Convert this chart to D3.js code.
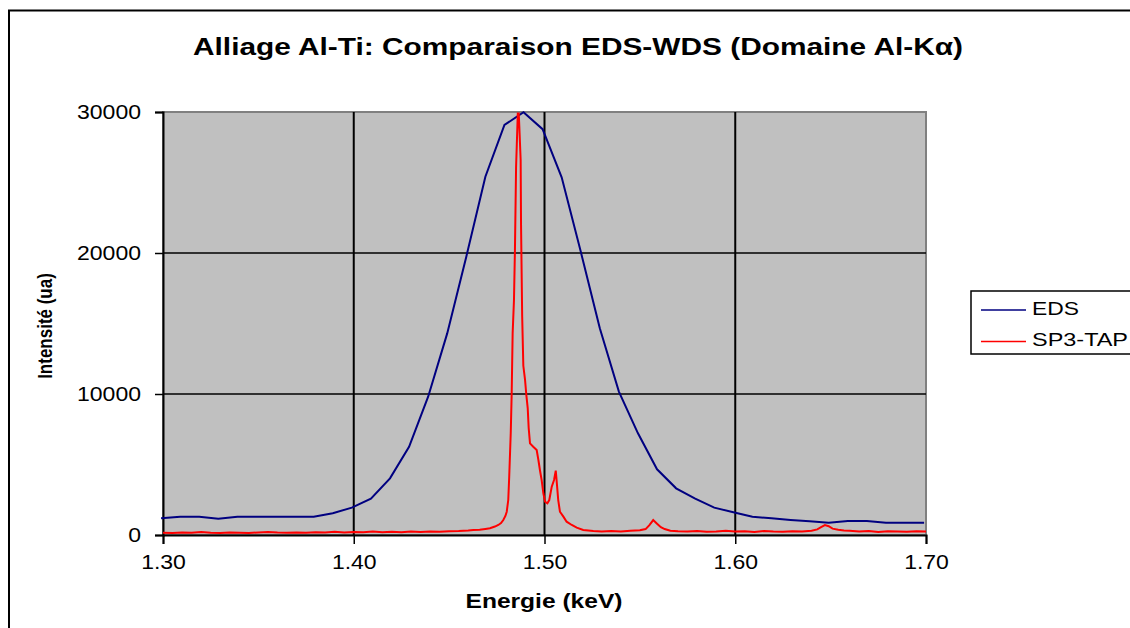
<!DOCTYPE html>
<html>
<head>
<meta charset="utf-8">
<script src="https://cdnjs.cloudflare.com/ajax/libs/d3/7.8.5/d3.min.js"></script>
<style>
    body { margin: 0; background: #fff; }
    svg text { font-family: "Liberation Sans", Arial, sans-serif; }
</style>
</head>
<body>
<svg id="chart"></svg>
<script>
/* global d3 */

// EDS spectrum (10 eV channels)
var edsEnergy = [1.299, 1.309, 1.319, 1.329, 1.339, 1.349, 1.359, 1.369, 1.379, 1.389,
    1.399, 1.409, 1.419, 1.429, 1.439, 1.449, 1.459, 1.469, 1.479, 1.489,
    1.499, 1.509, 1.519, 1.529, 1.539, 1.549, 1.559, 1.569, 1.579, 1.589,
    1.599, 1.609, 1.619, 1.629, 1.639, 1.649, 1.659, 1.669, 1.679, 1.689, 1.699];
var edsCounts = [1180, 1300, 1300, 1160, 1300, 1300, 1300, 1300, 1300, 1540,
    1940, 2580, 4020, 6260, 9810, 14300, 19740, 25410, 29080, 29980,
    28780, 25370, 20100, 14660, 10170, 7210, 4660, 3310, 2580, 1940,
    1610, 1300, 1180, 1064, 970, 870, 993, 993, 870, 870, 870];

// WDS spectrum, spectrometer SP3 with TAP crystal
var wdsEnergy = [1.300, 1.305, 1.310, 1.315, 1.320, 1.325, 1.330, 1.335, 1.340, 1.345,
    1.350, 1.355, 1.360, 1.365, 1.370, 1.375, 1.380, 1.385, 1.390, 1.395,
    1.400, 1.405, 1.410, 1.415, 1.420, 1.425, 1.430, 1.435, 1.440, 1.445,
    1.450, 1.455, 1.460, 1.4627, 1.466, 1.469, 1.4714, 1.474, 1.4758, 1.4772,
    1.4784, 1.4795, 1.4802, 1.4810, 1.4815, 1.4823, 1.4828, 1.4833, 1.4840, 1.4845,
    1.4851, 1.4860, 1.4865, 1.4868, 1.4875, 1.4877, 1.4883, 1.4889, 1.4898, 1.4905,
    1.4912, 1.4917, 1.4924, 1.4941, 1.4959, 1.4968, 1.4976, 1.4985, 1.4994, 1.5003,
    1.5015, 1.5025, 1.5038, 1.5050, 1.5059, 1.5064, 1.5072, 1.5081, 1.5099, 1.5116,
    1.5143, 1.5169, 1.5203, 1.5256, 1.530, 1.535, 1.540, 1.545, 1.550, 1.553,
    1.555, 1.557, 1.559, 1.561, 1.563, 1.566, 1.570, 1.575, 1.580, 1.585,
    1.590, 1.595, 1.600, 1.605, 1.610, 1.615, 1.620, 1.625, 1.630, 1.635,
    1.640, 1.643, 1.645, 1.647, 1.649, 1.651, 1.654, 1.657, 1.660, 1.665,
    1.670, 1.675, 1.680, 1.685, 1.690, 1.695, 1.700];
var wdsCounts = [160, 150, 170, 160, 210, 160, 150, 170, 160, 150,
    180, 220, 170, 160, 180, 160, 200, 170, 230, 180,
    220, 190, 240, 200, 230, 190, 250, 220, 240, 230,
    260, 280, 320, 355, 380, 430, 475, 600, 710, 850,
    1060, 1350, 1650, 2480, 4130, 7210, 10050, 14300, 16670, 20200,
    26100, 29900, 29900, 28960, 26600, 22000, 15500, 12000, 11000, 9900,
    9000, 7600, 6500, 6260, 6030, 5320, 4610, 3900, 2960, 2360,
    2250, 2480, 3430, 3900, 4560, 3780, 2480, 1650, 1300, 945,
    710, 520, 355, 280, 250, 290, 240, 300, 330, 420,
    700, 1060, 800, 550, 420, 300, 260, 240, 280, 230,
    250, 300, 240, 260, 220, 280, 240, 230, 270, 240,
    300, 400, 560, 700, 620, 450, 380, 320, 300, 250,
    280, 220, 260, 240, 230, 260, 240];

var xTicks = [1.30, 1.40, 1.50, 1.60, 1.70];
var yTicks = [0, 10000, 20000, 30000];

var AlTi = AlTi || {};
AlTi.SpectrumChart = function (svgEl) {

    var that = {},
        width = 1130,
        height = 628,
        plot = { left: 163, right: 926, top: 112, bottom: 535 };

    // the original picture is a little wider than Arial, so widen horizontal texts
    function widen(sel, k) {
        sel.each(function () {
            var w = this.getComputedTextLength();
            d3.select(this).attr("textLength", w * k).attr("lengthAdjust", "spacingAndGlyphs");
        });
    }

    function draw() {
        var svg = d3.select(svgEl).attr("width", width).attr("height", height),
            x = d3.scaleLinear().domain([1.30, 1.70]).range([plot.left, plot.right]),
            y = d3.scaleLinear().domain([0, 30000]).range([plot.bottom, plot.top]),
            eds = edsEnergy.map(function (e, i) { return [e, edsCounts[i]]; }),
            wds = wdsEnergy.map(function (e, i) { return [e, wdsCounts[i]]; }),
            line = d3.line().x(function (d) { return x(d[0]); }).y(function (d) { return y(d[1]); });

        // outer chart frame
        svg.append("rect").attr("x", 9).attr("y", 10.5).attr("width", 1140).attr("height", 640)
            .attr("fill", "#fff").attr("stroke", "#000").attr("stroke-width", 2);

        svg.append("text").attr("x", 578).attr("y", 55).attr("text-anchor", "middle")
            .attr("font-size", 24).attr("font-weight", "bold")
            .attr("textLength", 770).attr("lengthAdjust", "spacingAndGlyphs")
            .text("Alliage Al-Ti: Comparaison EDS-WDS (Domaine Al-K\u03b1)");

        // plot area
        svg.append("rect").attr("x", plot.left).attr("y", plot.top)
            .attr("width", plot.right - plot.left).attr("height", plot.bottom - plot.top)
            .attr("fill", "#c0c0c0").attr("stroke", "#808080").attr("stroke-width", 2);

        svg.append("g").selectAll("line").data(xTicks.slice(1, 4)).enter().append("line")
            .attr("x1", x).attr("x2", x).attr("y1", plot.top).attr("y2", plot.bottom)
            .attr("stroke", "#000").attr("stroke-width", 2);
        svg.append("g").selectAll("line").data(yTicks.slice(1, 3)).enter().append("line")
            .attr("y1", y).attr("y2", y).attr("x1", plot.left).attr("x2", plot.right)
            .attr("stroke", "#000").attr("stroke-width", 1.6);

        var xAxis = svg.append("g").attr("transform", "translate(0," + plot.bottom + ")")
            .call(d3.axisBottom(x).tickValues(xTicks).tickFormat(d3.format(".2f")).tickSize(9).tickPadding(11));
        var yAxis = svg.append("g").attr("transform", "translate(" + plot.left + ",0)")
            .call(d3.axisLeft(y).tickValues(yTicks).tickFormat(d3.format("d")).tickSize(8).tickPadding(14));
        [xAxis, yAxis].forEach(function (a) {
            a.select(".domain").attr("stroke", "#000").attr("stroke-width", 2);
            a.selectAll(".tick line").attr("stroke", "#000").attr("stroke-width", 1.5);
            a.selectAll("text").attr("font-size", 20).attr("fill", "#000")
                .attr("font-family", "Liberation Sans, Arial, sans-serif");
            widen(a.selectAll("text"), 1.15);
        });

        svg.append("path").datum(eds).attr("d", line).attr("fill", "none")
            .attr("stroke", "#000080").attr("stroke-width", 2);
        svg.append("path").datum(wds).attr("d", line).attr("fill", "none")
            .attr("stroke", "#ff0000").attr("stroke-width", 2);

        svg.append("text").attr("x", 544).attr("y", 608).attr("text-anchor", "middle")
            .attr("font-size", 20).attr("font-weight", "bold")
            .attr("textLength", 157).attr("lengthAdjust", "spacingAndGlyphs").text("Energie (keV)");
        svg.append("text").attr("transform", "translate(52,326) scale(1.2,1) rotate(-90)").attr("text-anchor", "middle")
            .attr("font-size", 17).attr("font-weight", "bold").text("Intensit\u00e9 (ua)");

        // legend
        var lg = svg.append("g").attr("transform", "translate(971,291)");
        lg.append("rect").attr("width", 200).attr("height", 63).attr("fill", "#fff")
            .attr("stroke", "#000").attr("stroke-width", 1.5);
        [["EDS", "#000080", 47], ["SP3-TAP", "#ff0000", 96]].forEach(function (s, i) {
            lg.append("line").attr("x1", 10).attr("x2", 55).attr("y1", 19 + i * 31.5).attr("y2", 19 + i * 31.5)
                .attr("stroke", s[1]).attr("stroke-width", 1.5);
            lg.append("text").attr("x", 61).attr("y", 24 + i * 31).attr("font-size", 18)
                .attr("textLength", s[2]).attr("lengthAdjust", "spacingAndGlyphs").text(s[0]);
        });
    }

    that.draw = draw;
    return that;
};

AlTi.SpectrumChart(document.getElementById("chart")).draw();
</script>
</body>
</html>
